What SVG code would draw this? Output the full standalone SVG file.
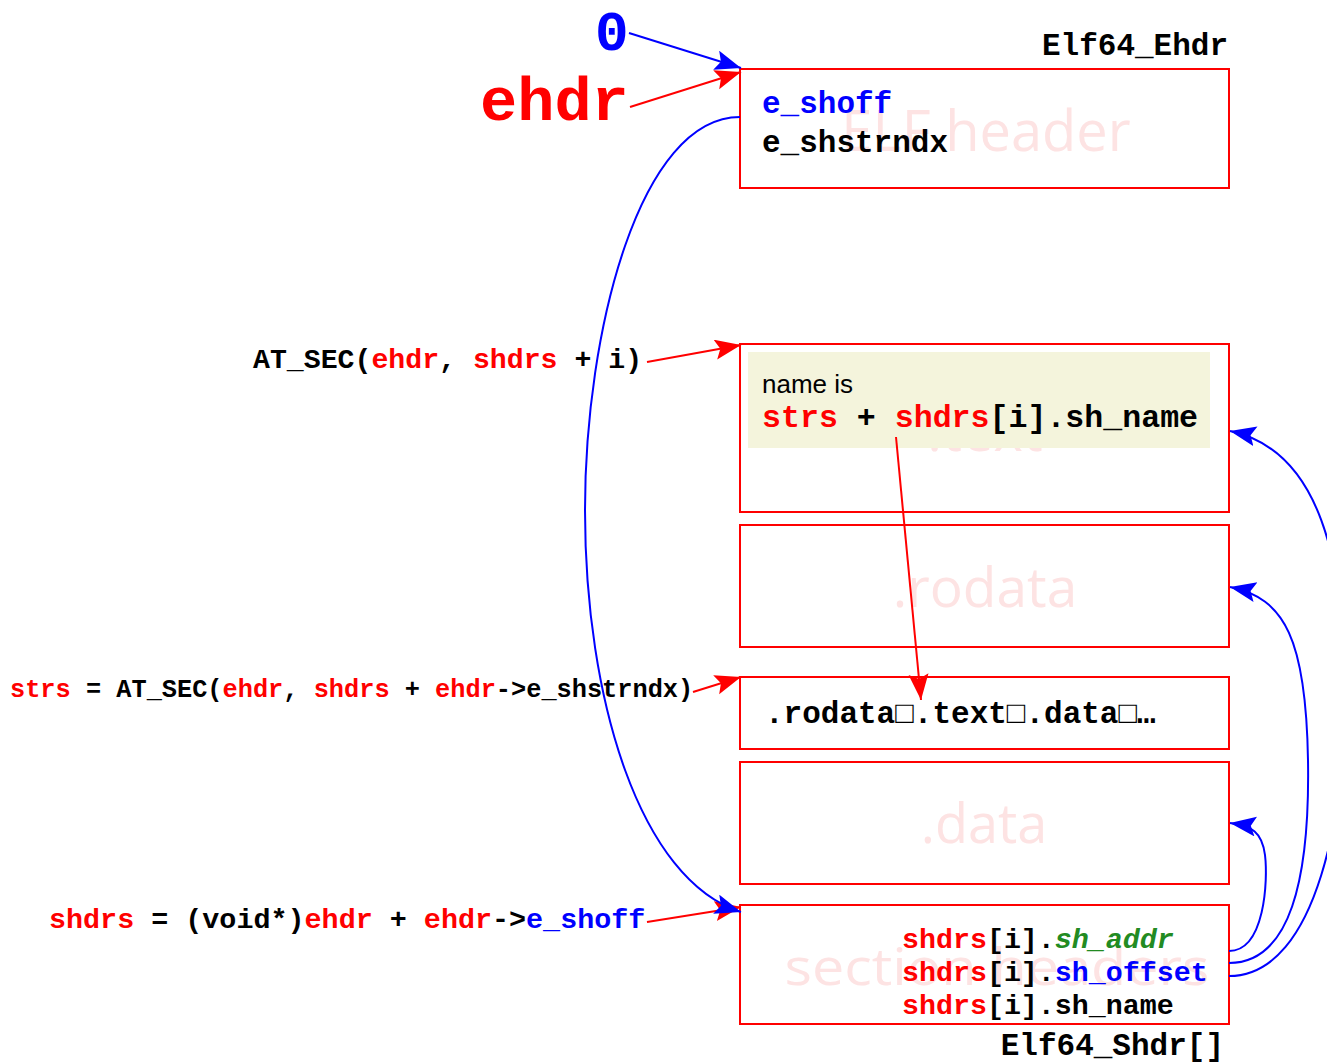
<svg xmlns="http://www.w3.org/2000/svg" width="1327" height="1063" viewBox="0 0 1327 1063">
<style>
.box{fill:#fff;stroke:#ff0000;stroke-width:2}
.code{font-family:"Liberation Mono","DejaVu Sans Mono",monospace;font-weight:bold;fill:#000}
.wm{font-family:"Open Sans","Liberation Sans",sans-serif;fill:#fde3e3;text-anchor:middle}
.r{fill:#ff0000}
.b{fill:#0000ff}
.g{fill:#228b22;font-style:italic}
.lr{fill:none;stroke:#ff0000;stroke-width:2}
.lb{fill:none;stroke:#0000ff;stroke-width:2}
</style>
<defs>
<marker id="ar" markerUnits="userSpaceOnUse" markerWidth="28" markerHeight="22" refX="26" refY="10" orient="auto"><path d="M0,0 L26,10 L0,20 L5,10 z" fill="#ff0000"/></marker>
<marker id="ab" markerUnits="userSpaceOnUse" markerWidth="28" markerHeight="22" refX="26" refY="10" orient="auto"><path d="M0,0 L26,10 L0,20 L5,10 z" fill="#0000ff"/></marker>
</defs>
<rect width="1327" height="1063" fill="#fff"/>

<g id="ehdr-box">
<rect class="box" x="740" y="69" width="489" height="119"/>
<text class="wm" x="986" y="151" font-size="56">ELF header</text>
<text class="code b" x="762" y="113" font-size="31">e_shoff</text>
<text class="code" x="762" y="152" font-size="31">e_shstrndx</text>
<text class="code" x="1228" y="55" font-size="31" text-anchor="end">Elf64_Ehdr</text>
</g>

<g id="text-box">
<rect class="box" x="740" y="344" width="489" height="168"/>
<text class="wm" x="985" y="451" font-size="56">.text</text>
<rect x="748" y="352" width="462" height="96" fill="#f4f4dc"/>
<text x="762" y="393" font-family="'Liberation Sans','Open Sans',sans-serif" font-size="26" fill="#000">name is</text>
<text class="code" x="762" y="427" font-size="31.6"><tspan class="r">strs</tspan> + <tspan class="r">shdrs</tspan>[i].sh_name</text>
</g>

<g id="rodata-box">
<rect class="box" x="740" y="525" width="489" height="122"/>
<text class="wm" x="985" y="607" font-size="55">.rodata</text>
</g>

<g id="strtab-box">
<rect class="box" x="740" y="677" width="489" height="72"/>
<text class="code" x="765" y="723" font-size="31">.rodata□.text□.data□…</text>
</g>

<g id="data-box">
<rect class="box" x="740" y="762" width="489" height="122"/>
<text class="wm" x="984" y="843" font-size="54">.data</text>
</g>

<g id="shdr-box">
<rect class="box" x="740" y="905" width="489" height="119"/>
<text class="wm" x="997" y="985" font-size="52" textLength="425" lengthAdjust="spacingAndGlyphs">section headers</text>
<text class="code" x="902" y="948" font-size="28.3"><tspan class="r">shdrs</tspan>[i].<tspan class="g">sh_addr</tspan></text>
<text class="code" x="902" y="981" font-size="28.3"><tspan class="r">shdrs</tspan>[i].<tspan class="b">sh_offset</tspan></text>
<text class="code" x="902" y="1014" font-size="28.3"><tspan class="r">shdrs</tspan>[i].sh_name</text>
<text class="code" x="1224" y="1055" font-size="31" text-anchor="end">Elf64_Shdr[]</text>
</g>

<g id="labels">
<text class="code b" x="595" y="50" font-size="56">0</text>
<text class="code r" x="480" y="120" font-size="62">ehdr</text>
<text class="code" x="253" y="368" font-size="28.2">AT_SEC(<tspan class="r">ehdr</tspan>, <tspan class="r">shdrs</tspan> + i)</text>
<text class="code" x="10" y="697" font-size="25.3"><tspan class="r">strs</tspan> = AT_SEC(<tspan class="r">ehdr</tspan>, <tspan class="r">shdrs</tspan> + <tspan class="r">ehdr</tspan>-&gt;e_shstrndx)</text>
<text class="code" x="49" y="928" font-size="28.4"><tspan class="r">shdrs</tspan> = (void*)<tspan class="r">ehdr</tspan> + <tspan class="r">ehdr</tspan>-&gt;<tspan class="b">e_shoff</tspan></text>
</g>

<g id="connectors">
<path class="lb" d="M629,33 L741,68" marker-end="url(#ab)"/>
<path class="lr" d="M630,107 L741,72" marker-end="url(#ar)"/>
<path class="lr" d="M647,362 L741,345" marker-end="url(#ar)"/>
<path class="lr" d="M693,692 L741,677" marker-end="url(#ar)"/>
<path class="lr" d="M647,922 L741,907" marker-end="url(#ar)"/>
<path class="lb" d="M740,117 C640,117 585,330 585,510 C585,700 640,880 741,912" marker-end="url(#ab)"/>
<path class="lr" d="M896,437 L921,700" marker-end="url(#ar)"/>
<path class="lb" d="M1229,951 C1265,951 1268,880 1265,855 C1262,832 1252,826 1230,823" marker-end="url(#ab)"/>
<path class="lb" d="M1229,963 C1290,963 1310,880 1308,760 C1306,640 1285,598 1230,587" marker-end="url(#ab)"/>
<path class="lb" d="M1229,976 C1320,976 1345,800 1345,700 C1345,560 1320,450 1230,431" marker-end="url(#ab)"/>
</g>
</svg>
